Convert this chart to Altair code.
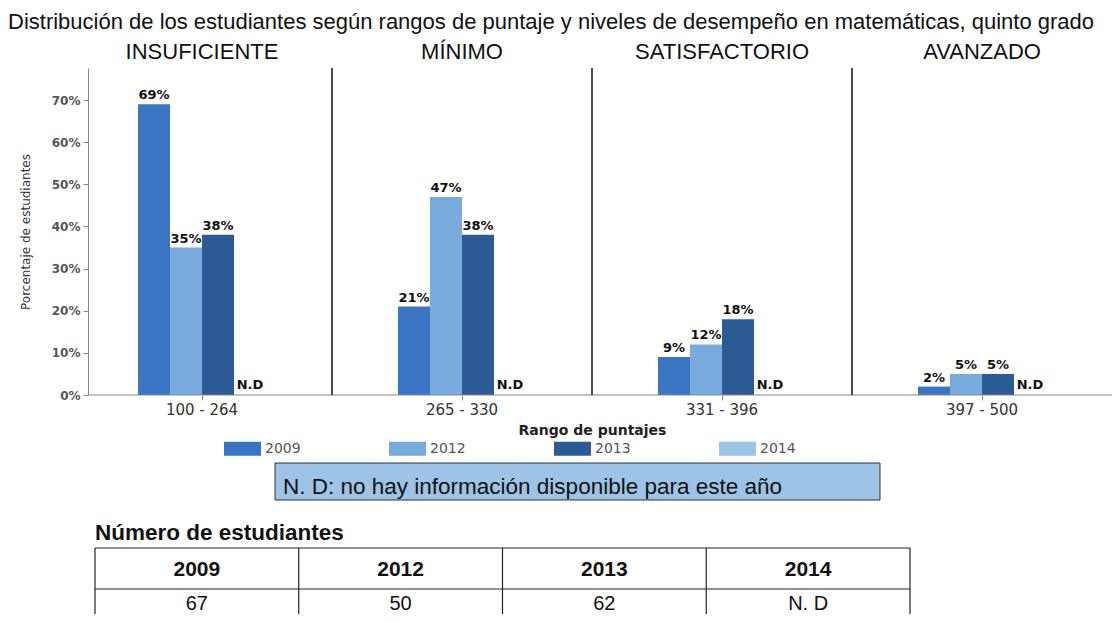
import altair as alt
import pandas as pd

# ---- data ----
categories = ["100 - 264", "265 - 330", "331 - 396", "397 - 500"]
levels = ["INSUFICIENTE", "MÍNIMO", "SATISFACTORIO", "AVANZADO"]
years = ["2009", "2012", "2013", "2014"]
pct_2009 = [69, 21, 9, 2]
pct_2012 = [35, 47, 12, 5]
pct_2013 = [38, 38, 18, 5]
pct_2014 = [None, None, None, None]   # N.D
students = ["67", "50", "62", "N. D"]
colors = ["#3a75c4", "#78aadb", "#2b5a94", "#9dc3e6"]
title_text = ("Distribución de los estudiantes según rangos de puntaje y niveles "
              "de desempeño en matemáticas, quinto grado")
note_text = "N. D: no hay información disponible para este año"
table_title = "Número de estudiantes"

rows = []
for yr, vals in zip(years, [pct_2009, pct_2012, pct_2013, pct_2014]):
    for cat, v in zip(categories, vals):
        rows.append({
            "rango": cat,
            "anio": yr,
            "valor": None if v is None else v / 100.0,
            "etiqueta": "N.D" if v is None else f"{v}%",
        })
bars_df = pd.DataFrame(rows)
levels_df = pd.DataFrame({"rango": categories, "nivel": levels})
sep_df = pd.DataFrame({"rango": categories[1:]})
table_df = pd.DataFrame({"anio": years, "n": students})
note_df = pd.DataFrame({"nota": [note_text]})
ttitle_df = pd.DataFrame({"t": [table_title]})

W, H = 1040, 327


def xscale():
    return alt.Scale(domain=categories, paddingInner=0, paddingOuter=0)


def tscale():
    return alt.Scale(domain=years, range=[23, 838], paddingInner=0, paddingOuter=0)


yscale = alt.Scale(domain=[0, 0.776], nice=False)
xoff = alt.XOffset("anio:N", scale=alt.Scale(domain=years, range=[66, 194],
                                               paddingInner=0, paddingOuter=0))

base = alt.Chart(bars_df)

bars = base.mark_bar().transform_filter("isValid(datum.valor)").encode(
    x=alt.X("rango:N", sort=categories, scale=xscale(),
            axis=alt.Axis(labelAngle=0, labelFont="DejaVu Sans", labelFontSize=15,
                          labelColor="#333", tickSize=5, tickColor="#888",
                          domain=False, labelPadding=2, title="Rango de puntajes",
                          titleFont="DejaVu Sans", titleFontSize=14,
                          titleFontWeight="bold", titleColor="#222", titlePadding=6)),
    xOffset=xoff,
    y=alt.Y("valor:Q", scale=yscale,
            axis=alt.Axis(format="%", values=[0, 0.1, 0.2, 0.3, 0.4, 0.5, 0.6, 0.7],
                          offset=-16, labelFont="DejaVu Sans", labelFontSize=12,
                          labelColor="#555", labelFontWeight="bold", tickSize=5,
                          tickColor="#888", domainColor="#888", grid=False,
                          labelPadding=3, title="Porcentaje de estudiantes",
                          titleFont="DejaVu Sans", titleFontSize=12,
                          titleFontWeight="normal", titleColor="#333", titlePadding=19)),
    color=alt.Color("anio:N", scale=alt.Scale(domain=years, range=colors),
                    legend=alt.Legend(orient="none", legendX=152, legendY=362,
                                      direction="horizontal", columns=4, title=None,
                                      symbolType="M-1,-0.38L1,-0.38L1,0.38L-1,0.38Z",
                                      symbolSize=1369, symbolStrokeWidth=0,
                                      labelFont="DejaVu Sans", labelFontSize=14,
                                      labelColor="#555", labelOffset=4,
                                      columnPadding=88, padding=0)),
)

labels = base.mark_text(baseline="bottom", dy=-2, fontSize=13, fontWeight="bold",
                        font="DejaVu Sans", color="#111").transform_filter(
    "isValid(datum.valor)").encode(
    x=alt.X("rango:N", scale=xscale(), axis=None),
    xOffset=xoff,
    y=alt.Y("valor:Q", scale=yscale),
    text="etiqueta:N",
)

nd = base.mark_text(baseline="bottom", dy=-3, fontSize=13, fontWeight="bold",
                    font="DejaVu Sans", color="#111").transform_filter(
    "!isValid(datum.valor)").encode(
    x=alt.X("rango:N", scale=xscale(), axis=None),
    xOffset=xoff,
    y=alt.datum(0),
    text="etiqueta:N",
)

xdomain = alt.Chart(note_df).mark_rule(color="#888", strokeWidth=1).encode(
    x=alt.value(16), x2=alt.value(W), y=alt.value(H))

seps = alt.Chart(sep_df).mark_rule(color="#111", strokeWidth=1.5).encode(
    x=alt.X("rango:N", bandPosition=0, scale=xscale(), axis=None),
    y=alt.value(0), y2=alt.value(H))

headers = alt.Chart(levels_df).mark_text(baseline="alphabetic", fontSize=22,
                                         font="Liberation Sans", color="#111").encode(
    x=alt.X("rango:N", scale=xscale(), axis=None),
    y=alt.value(-9),
    text="nivel:N",
)

note_box = alt.Chart(note_df).mark_rect(fill="#9dc3e6", stroke="#333", strokeWidth=1).encode(
    x=alt.value(203), x2=alt.value(808), y=alt.value(395), y2=alt.value(432))
note_txt = alt.Chart(note_df).mark_text(align="left", baseline="alphabetic", fontSize=22.5,
                                        font="Liberation Sans", color="#111").encode(
    x=alt.value(211), y=alt.value(426), text="nota:N")

ttitle = alt.Chart(ttitle_df).mark_text(align="left", baseline="alphabetic", fontSize=22.5,
                                        fontWeight="bold", font="Liberation Sans",
                                        color="#111").encode(
    x=alt.value(23), y=alt.value(472), text="t:N")

hline1 = alt.Chart(note_df).mark_rule(color="#222", strokeWidth=1.2).encode(
    x=alt.value(23), x2=alt.value(838), y=alt.value(480))
hline2 = alt.Chart(note_df).mark_rule(color="#222", strokeWidth=1.2).encode(
    x=alt.value(23), x2=alt.value(838), y=alt.value(521))

vlines = alt.Chart(table_df).mark_rule(color="#222", strokeWidth=1.2).encode(
    x=alt.X("anio:N", bandPosition=0, scale=tscale(), axis=None),
    y=alt.value(480), y2=alt.value(554))
vlast = alt.Chart(table_df).mark_rule(color="#222", strokeWidth=1.2).transform_filter(
    alt.datum.anio == years[-1]).encode(
    x=alt.X("anio:N", bandPosition=1, scale=tscale(), axis=None),
    y=alt.value(480), y2=alt.value(554))

thead = alt.Chart(table_df).mark_text(baseline="alphabetic", fontSize=21, fontWeight="bold",
                                      font="Liberation Sans", color="#111").encode(
    x=alt.X("anio:N", scale=tscale(), axis=None), y=alt.value(508), text="anio:N")
tbody = alt.Chart(table_df).mark_text(baseline="alphabetic", fontSize=20,
                                      font="Liberation Sans", color="#111").encode(
    x=alt.X("anio:N", scale=tscale(), axis=None), y=alt.value(542), text="n:N")

chart = alt.layer(
    bars, labels, nd, xdomain, seps, headers, note_box, note_txt,
    ttitle, hline1, hline2, vlines, vlast, thead, tbody,
).resolve_scale(x="independent").properties(
    width=W, height=H,
    title=alt.TitleParams(title_text, anchor="start", frame="group", dx=-64, dy=-7,
                          fontSize=22, font="Liberation Sans", fontWeight="normal",
                          color="#111", offset=0),
    autosize=alt.AutoSizeParams(type="none"),
    padding={"left": 64, "top": 60, "right": 0, "bottom": 219},
).configure_view(stroke=None)

chart.save("out.html", embed_options={"renderer": "svg", "actions": False})
